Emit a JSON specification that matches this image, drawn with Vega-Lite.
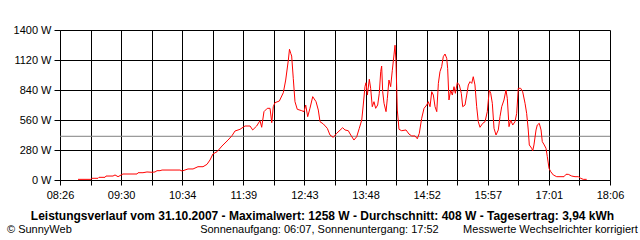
{
  "$schema": "https://vega.github.io/schema/vega-lite/v6.json",
  "width": 550,
  "height": 150,
  "autosize": "none",
  "padding": {"left": 60, "top": 30, "right": 30, "bottom": 60},
  "background": "white",
  "config": {
    "view": {"stroke": null},
    "font": "Liberation Sans",
    "axis": {"labelFont": "Liberation Sans", "titleFont": "Liberation Sans"}
  },
  "title": {
    "text": "© SunnyWeb\u00a0\u00a0\u00a0\u00a0\u00a0\u00a0\u00a0\u00a0\u00a0\u00a0\u00a0\u00a0\u00a0\u00a0\u00a0\u00a0\u00a0\u00a0\u00a0\u00a0\u00a0\u00a0\u00a0\u00a0\u00a0\u00a0\u00a0\u00a0\u00a0\u00a0\u00a0\u00a0\u00a0\u00a0\u00a0\u00a0\u00a0\u00a0\u00a0\u00a0\u00a0\u00a0Sonnenaufgang: 06:07, Sonnenuntergang: 17:52\u00a0\u00a0\u00a0\u00a0\u00a0\u00a0\u00a0\u00a0Messwerte Wechselrichter korrigiert",
    "orient": "bottom",
    "anchor": "start",
    "frame": "group",
    "dx": -53,
    "offset": 3,
    "fontSize": 11,
    "fontWeight": "normal",
    "color": "black",
    "font": "Liberation Sans"
  },
  "datasets": {
    "power": [
      {"t": 525.0, "w": 6}, {"t": 538.7, "w": 6}, {"t": 539.7, "w": 16}, {"t": 546.1, "w": 16},
      {"t": 547.1, "w": 25}, {"t": 553.5, "w": 25}, {"t": 554.5, "w": 37}, {"t": 561.9, "w": 37},
      {"t": 564.0, "w": 47}, {"t": 567.2, "w": 31}, {"t": 572.4, "w": 56}, {"t": 587.2, "w": 56},
      {"t": 588.3, "w": 68}, {"t": 593.5, "w": 68}, {"t": 597.7, "w": 75}, {"t": 603.0, "w": 72},
      {"t": 606.2, "w": 75}, {"t": 608.3, "w": 87}, {"t": 611.5, "w": 87}, {"t": 613.6, "w": 93},
      {"t": 632.5, "w": 93}, {"t": 634.7, "w": 84}, {"t": 641.0, "w": 103}, {"t": 646.3, "w": 103},
      {"t": 651.5, "w": 124}, {"t": 656.8, "w": 124}, {"t": 661.0, "w": 146}, {"t": 664.2, "w": 187},
      {"t": 667.3, "w": 243}, {"t": 671.6, "w": 264}, {"t": 676.8, "w": 317}, {"t": 683.2, "w": 373},
      {"t": 687.4, "w": 414}, {"t": 690.5, "w": 457}, {"t": 695.8, "w": 473}, {"t": 701.1, "w": 504},
      {"t": 706.4, "w": 504}, {"t": 709.2, "w": 467}, {"t": 713.4, "w": 504}, {"t": 716.9, "w": 554},
      {"t": 718.7, "w": 492}, {"t": 721.1, "w": 638}, {"t": 724.6, "w": 669}, {"t": 727.5, "w": 669},
      {"t": 729.3, "w": 535}, {"t": 730.9, "w": 684}, {"t": 732.7, "w": 722}, {"t": 737.3, "w": 737},
      {"t": 741.5, "w": 815}, {"t": 744.0, "w": 933}, {"t": 746.8, "w": 1120}, {"t": 748.0, "w": 1220},
      {"t": 749.3, "w": 1182}, {"t": 750.3, "w": 1157}, {"t": 752.0, "w": 949}, {"t": 753.8, "w": 731},
      {"t": 756.2, "w": 660}, {"t": 760.9, "w": 647}, {"t": 763.3, "w": 638}, {"t": 765.1, "w": 700},
      {"t": 767.2, "w": 591}, {"t": 769.6, "w": 669}, {"t": 772.5, "w": 778}, {"t": 776.0, "w": 731},
      {"t": 778.4, "w": 653}, {"t": 780.2, "w": 544}, {"t": 783.7, "w": 523}, {"t": 787.9, "w": 482},
      {"t": 790.7, "w": 420}, {"t": 794.2, "w": 398}, {"t": 797.8, "w": 436}, {"t": 804.1, "w": 488},
      {"t": 806.5, "w": 467}, {"t": 810.0, "w": 460}, {"t": 812.6, "w": 420}, {"t": 816.0, "w": 373},
      {"t": 818.9, "w": 404}, {"t": 821.6, "w": 482}, {"t": 824.2, "w": 560}, {"t": 825.8, "w": 700},
      {"t": 827.6, "w": 871}, {"t": 828.7, "w": 908}, {"t": 830.1, "w": 793}, {"t": 832.2, "w": 940},
      {"t": 833.6, "w": 856}, {"t": 835.3, "w": 684}, {"t": 837.1, "w": 731}, {"t": 838.9, "w": 669},
      {"t": 841.0, "w": 700}, {"t": 842.7, "w": 809}, {"t": 844.2, "w": 1011}, {"t": 845.2, "w": 1064},
      {"t": 846.3, "w": 824}, {"t": 847.7, "w": 716}, {"t": 849.8, "w": 638}, {"t": 851.2, "w": 762},
      {"t": 852.9, "w": 933}, {"t": 854.7, "w": 871}, {"t": 856.4, "w": 1020}, {"t": 858.2, "w": 1167},
      {"t": 859.3, "w": 1258}, {"t": 860.3, "w": 1104}, {"t": 861.7, "w": 653}, {"t": 863.5, "w": 473},
      {"t": 866.3, "w": 460}, {"t": 870.9, "w": 467}, {"t": 874.0, "w": 429}, {"t": 876.9, "w": 411},
      {"t": 880.4, "w": 411}, {"t": 882.8, "w": 385}, {"t": 884.9, "w": 436}, {"t": 887.4, "w": 576},
      {"t": 889.9, "w": 669}, {"t": 892.7, "w": 700}, {"t": 894.4, "w": 731}, {"t": 896.2, "w": 684},
      {"t": 898.0, "w": 824}, {"t": 899.7, "w": 793}, {"t": 901.5, "w": 684}, {"t": 903.3, "w": 638},
      {"t": 905.0, "w": 902}, {"t": 906.7, "w": 1011}, {"t": 908.5, "w": 1058}, {"t": 910.2, "w": 1151},
      {"t": 912.0, "w": 1176}, {"t": 913.8, "w": 1136}, {"t": 914.8, "w": 1042}, {"t": 916.2, "w": 747},
      {"t": 918.0, "w": 840}, {"t": 919.7, "w": 793}, {"t": 921.5, "w": 871}, {"t": 922.9, "w": 809},
      {"t": 925.0, "w": 908}, {"t": 927.1, "w": 887}, {"t": 929.2, "w": 809}, {"t": 930.7, "w": 684},
      {"t": 933.1, "w": 700}, {"t": 934.9, "w": 793}, {"t": 936.6, "w": 887}, {"t": 938.4, "w": 918},
      {"t": 940.2, "w": 902}, {"t": 941.8, "w": 964}, {"t": 943.6, "w": 887}, {"t": 945.4, "w": 684},
      {"t": 947.1, "w": 544}, {"t": 948.9, "w": 492}, {"t": 951.8, "w": 529}, {"t": 954.2, "w": 544},
      {"t": 956.6, "w": 638}, {"t": 958.7, "w": 840}, {"t": 960.2, "w": 809}, {"t": 961.9, "w": 716},
      {"t": 963.7, "w": 482}, {"t": 965.8, "w": 420}, {"t": 968.2, "w": 467}, {"t": 970.0, "w": 591},
      {"t": 971.8, "w": 684}, {"t": 974.2, "w": 747}, {"t": 976.3, "w": 840}, {"t": 977.7, "w": 762},
      {"t": 979.5, "w": 498}, {"t": 981.3, "w": 560}, {"t": 983.4, "w": 513}, {"t": 985.8, "w": 544},
      {"t": 987.6, "w": 622}, {"t": 989.3, "w": 856}, {"t": 991.8, "w": 856}, {"t": 993.9, "w": 824},
      {"t": 996.4, "w": 716}, {"t": 998.1, "w": 622}, {"t": 999.8, "w": 467}, {"t": 1000.9, "w": 327},
      {"t": 1003.4, "w": 296}, {"t": 1004.5, "w": 273}, {"t": 1005.8, "w": 327}, {"t": 1008.0, "w": 467},
      {"t": 1009.3, "w": 513}, {"t": 1011.4, "w": 529}, {"t": 1013.3, "w": 467}, {"t": 1014.6, "w": 358},
      {"t": 1016.7, "w": 327}, {"t": 1018.5, "w": 296}, {"t": 1019.9, "w": 218}, {"t": 1021.7, "w": 109},
      {"t": 1023.5, "w": 78}, {"t": 1026.2, "w": 47}, {"t": 1029.8, "w": 31}, {"t": 1037.5, "w": 31},
      {"t": 1039.6, "w": 53}, {"t": 1042.0, "w": 53}, {"t": 1045.6, "w": 37}, {"t": 1049.1, "w": 31},
      {"t": 1052.6, "w": 31}, {"t": 1055.1, "w": 16}, {"t": 1057.8, "w": 6}, {"t": 1061.4, "w": 6}
    ],
    "avg": [{"w": 408}]
  },
  "encoding": {
    "y": {
      "field": "w", "type": "quantitative",
      "scale": {"domain": [0, 1400], "nice": false},
      "axis": {
        "values": [0, 280, 560, 840, 1120, 1400],
        "labelExpr": "datum.value + ' W'",
        "grid": true, "gridColor": "black", "gridOpacity": 1, "gridWidth": 1,
        "domainColor": "black", "domainWidth": 1,
        "tickColor": "black", "tickSize": 6, "tickWidth": 1,
        "labelColor": "black", "labelFontSize": 11, "labelPadding": 3,
        "labelFlush": false, "labelOverlap": false, "labelBound": false,
        "title": null
      }
    }
  },
  "layer": [
    {
      "data": {"name": "avg"},
      "mark": {"type": "rule", "color": "#808080", "strokeWidth": 1}
    },
    {
      "data": {"name": "power"},
      "mark": {"type": "line", "color": "#ff0000", "strokeWidth": 1, "clip": true},
      "encoding": {
        "x": {
          "field": "t", "type": "quantitative",
          "scale": {"domain": [506, 1086], "nice": false, "zero": false},
          "axis": {
            "values": [506, 538.222, 570.444, 602.667, 634.889, 667.111, 699.333, 731.556, 763.778, 796, 828.222, 860.444, 892.667, 924.889, 957.111, 989.333, 1021.556, 1053.778, 1086],
            "labelExpr": "(round((datum.value-506)/32.2222) % 2 == 1) ? '' : ((floor(datum.value/60) < 10 ? '0' : '') + floor(datum.value/60) + ':' + (floor(datum.value % 60) < 10 ? '0' : '') + floor(datum.value % 60))",
            "grid": true, "gridColor": "black", "gridOpacity": 1, "gridWidth": 1,
            "domainColor": "black", "domainWidth": 1,
            "tickColor": "black", "tickSize": 5, "tickWidth": 1,
            "labelColor": "black", "labelFontSize": 11, "labelPadding": 4,
            "labelFlush": false, "labelOverlap": false, "labelBound": false,
            "title": "Leistungsverlauf vom 31.10.2007 - Maximalwert: 1258 W - Durchschnitt: 408 W - Tagesertrag: 3,94 kWh",
            "titleFontWeight": "bold", "titleFontSize": 12, "titleColor": "black",
            "titleX": 262, "titleY": 35, "titleBaseline": "middle", "titleAlign": "center"
          }
        }
      }
    }
  ]
}
